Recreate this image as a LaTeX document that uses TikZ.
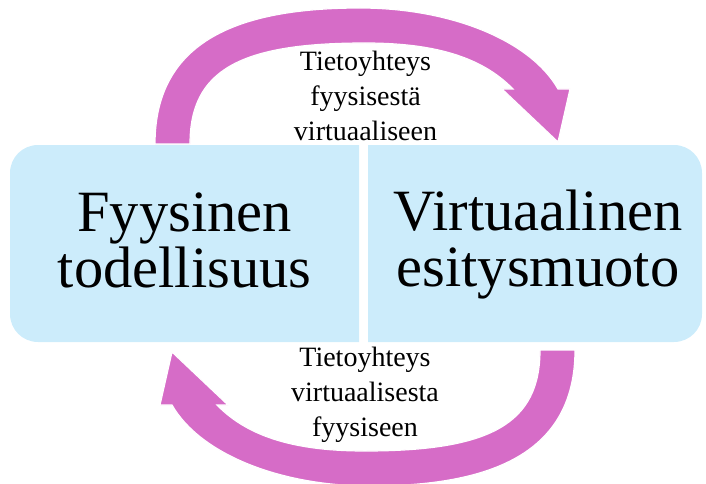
\documentclass[tikz,border=0pt]{standalone}
\usepackage{fontspec}
\setmainfont{Liberation Serif}
\definecolor{arrowpink}{RGB}{214,108,199}
\definecolor{boxblue}{RGB}{204,236,251}
\tikzset{
  boxfill/.style={fill=boxblue},
  arrowshape/.style={fill=arrowpink, draw=white, line width=1.2pt, line join=miter},
  bigtext/.style={font=\fontsize{58.5}{55.5}\selectfont, align=center, inner sep=0pt, anchor=base},
  smalltext/.style={font=\fontsize{28}{35}\selectfont, align=center, inner sep=0pt, anchor=base},
}
\begin{document}
\begin{tikzpicture}[x=1pt,y=-1pt]
\useasboundingbox (0,0) rectangle (706,484);
% boxes
\path[boxfill] (359,145) -- (38,145) .. controls (22.5,145) and (10,157.5) .. (10,173) -- (10,314) .. controls (10,329.5) and (22.5,342) .. (38,342) -- (359,342) -- cycle;
\path[boxfill] (368,145) -- (674,145) .. controls (689.5,145) and (702,157.5) .. (702,173) -- (702,314) .. controls (702,329.5) and (689.5,342) .. (674,342) -- (368,342) -- cycle;
% arrows
\path[arrowshape] (155,144) .. controls (155,40) and (240,8) .. (360,8) .. controls (450,8) and (530,40) .. (558,89) -- (570,89) -- (558,142) -- (502,89) -- (513,89) .. controls (480,55) and (430,43) .. (365,43) .. controls (240,43) and (190,70) .. (190,144) -- cycle;
\begin{scope}[rotate around={180:(365,247)}]
\path[arrowshape] (155,144) .. controls (155,40) and (240,8) .. (360,8) .. controls (450,8) and (530,40) .. (558,89) -- (570,89) -- (558,142) -- (502,89) -- (513,89) .. controls (480,55) and (430,43) .. (365,43) .. controls (240,43) and (190,70) .. (190,144) -- cycle;
\end{scope}
% texts
\node[bigtext] (fys) at (184.5,287) {Fyysinen\\todellisuus};
\node[bigtext] (vir) at (538,286) {Virtuaalinen\\esitysmuoto};
\node[smalltext] (up) at (365.5,140) {Tietoyhteys\\fyysisestä\\virtuaaliseen};
\node[smalltext] (down) at (365,436) {Tietoyhteys\\virtuaalisesta\\fyysiseen};
\end{tikzpicture}
\end{document}
